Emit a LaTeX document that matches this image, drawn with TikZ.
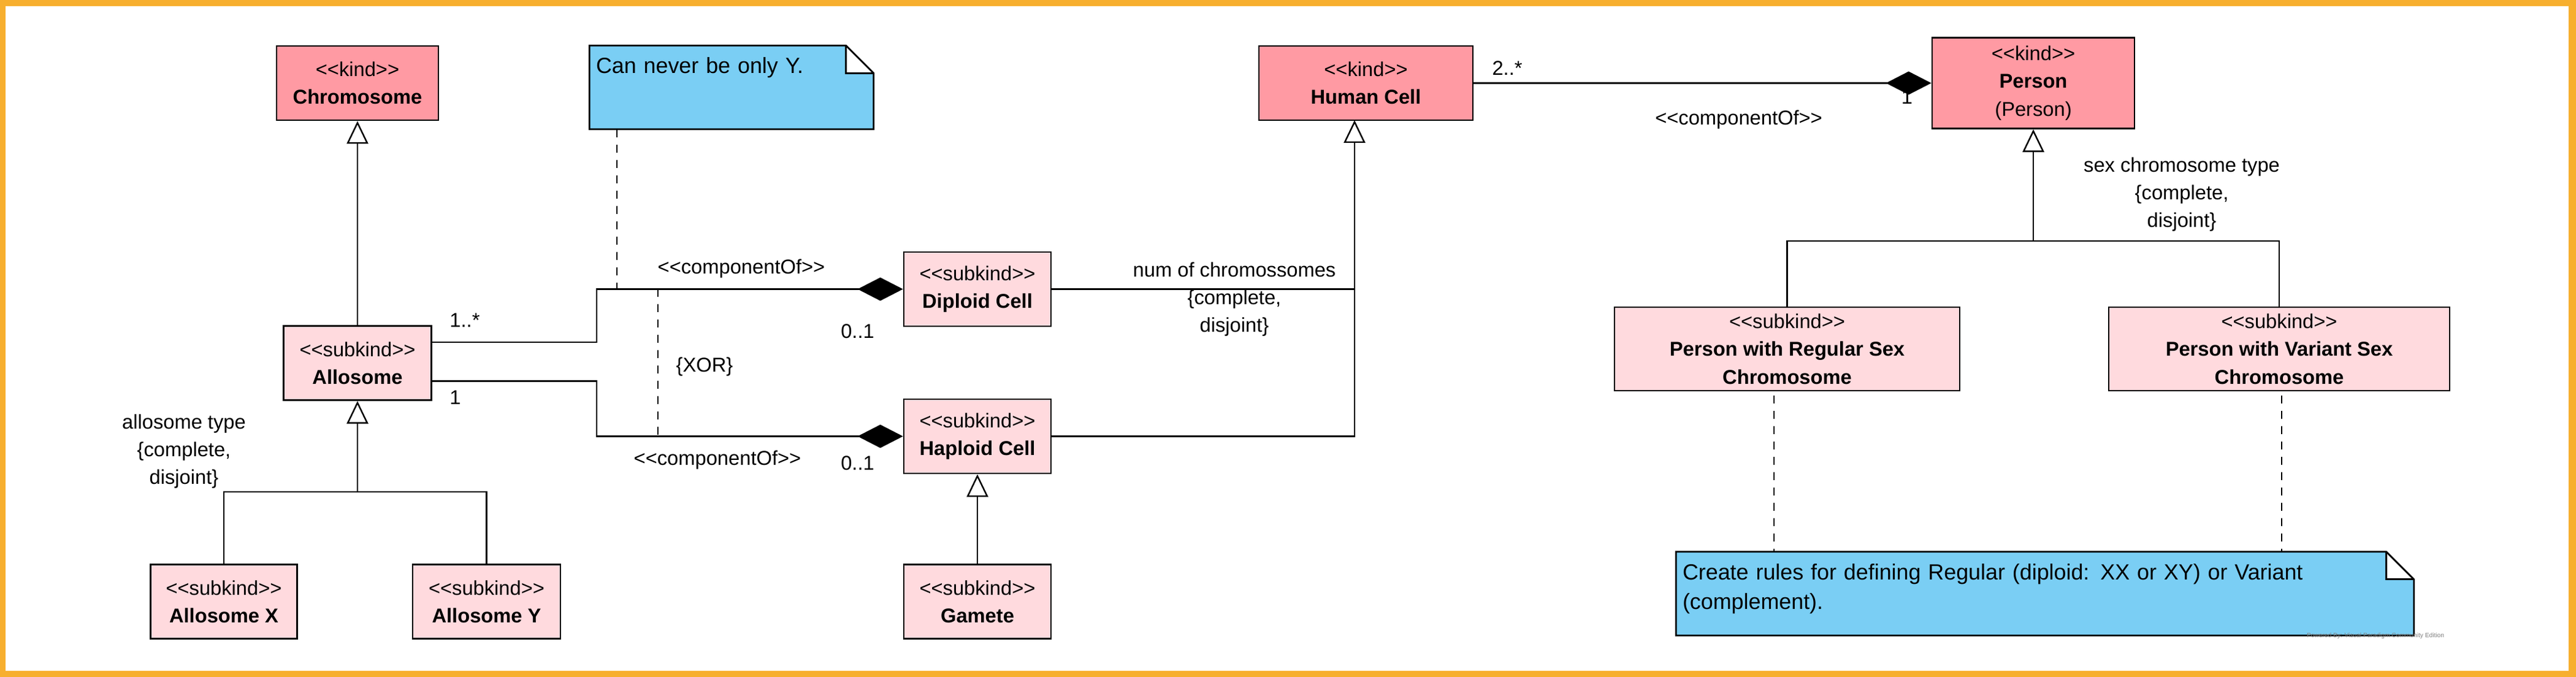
\documentclass[tikz,border=0pt]{standalone}
\usepackage{fontspec}
\setmainfont{Liberation Sans}
\usetikzlibrary{positioning, arrows.meta}
\definecolor{kindpink}{HTML}{FF9AA3}
\definecolor{subkindpink}{HTML}{FFDADE}
\definecolor{noteblue}{HTML}{7ACEF4}
\definecolor{frameorange}{HTML}{F7AF2F}
\newcommand\stereo[1]{<\kern0pt<#1>\kern0pt>}

\begin{document}
\begin{tikzpicture}[auto, on grid,
    kind/.style={rectangle, draw=black, thick, fill=kindpink, inner sep=0pt, minimum height=1.21cm, align=center, font=\fontsize{9.3}{12.9}\selectfont},
    subkind/.style={kind, fill=subkindpink},
    note/.style={rectangle, fill=noteblue, inner xsep=0.1cm, inner ysep=0.1cm, align=left, text height=0.35cm, text depth=0.8cm, font=\fontsize{10.2}{13.6}\selectfont},
    lbl/.style={align=center, inner sep=0pt, font=\fontsize{9.3}{12.9}\selectfont},
    line/.style={draw=black, line width=0.7pt},
    gen/.style={line, -{Triangle[open, length=3.7mm, width=3.5mm]}},
    comp/.style={line, -{Diamond[length=7.4mm, width=3.8mm]}},
    link/.style={draw=black, line width=0.55pt, dash pattern=on 1.3mm off 1.2mm}]

      % frame
      \fill[frameorange] (0,0) rectangle (42.01,-11.04);
      \fill[white] (0.09,-0.10) rectangle (41.89,-10.94);

      \node[kind, minimum width=2.64cm] (chr) at (5.83,-1.355) {\stereo{kind}\\\textbf{Chromosome}};
      \node[subkind, minimum width=2.41cm, below=4.565cm of chr] (allo) {\stereo{subkind}\\\textbf{Allosome}};
      \node[subkind, minimum width=2.39cm, below left=3.89cm and 2.18cm of allo] (allox) {\stereo{subkind}\\\textbf{Allosome X}};
      \node[subkind, minimum width=2.41cm, below right=3.89cm and 2.105cm of allo] (alloy) {\stereo{subkind}\\\textbf{Allosome Y}};
      \node[subkind, minimum width=2.40cm, below right=3.36cm and 10.11cm of chr] (diploid) {\stereo{subkind}\\\textbf{Diploid Cell}};
      \node[subkind, minimum width=2.40cm, below=2.4cm of diploid] (haploid) {\stereo{subkind}\\\textbf{Haploid Cell}};
      \node[subkind, minimum width=2.40cm, below=2.695cm of haploid] (gamete) {\stereo{subkind}\\\textbf{Gamete}};
      \node[kind, minimum width=3.49cm, right=16.445cm of chr] (human) {\stereo{kind}\\\textbf{Human Cell}};
      \node[kind, minimum width=3.30cm, minimum height=1.48cm, right=10.885cm of human] (person) {\stereo{kind}\\\textbf{Person}\\(Person)};
      \node[subkind, minimum width=5.63cm, minimum height=1.36cm, below left=4.335cm and 4.015cm of person] (regular) {\stereo{subkind}\\\textbf{Person with Regular Sex}\\\textbf{Chromosome}};
      \node[subkind, minimum width=5.56cm, minimum height=1.36cm, below right=4.335cm and 4.01cm of person] (variant) {\stereo{subkind}\\\textbf{Person with Variant Sex}\\\textbf{Chromosome}};

      \node[note, text width=4.42cm, below right=0.07cm and 6.1cm of chr] (note1) {Can never be only Y.};
      \node[note, text width=11.82cm, below right=3.99cm and 4.205cm of regular] (note2) {Create rules for defining Regular (diploid: XX or XY) or Variant\\(complement).};
      \foreach \n in {note1, note2} {
        \fill[white] ([xshift=-4.5mm]\n.north east) rectangle ([yshift=-4.5mm]\n.north east);
        \draw[thick] (\n.north west) -- ([xshift=-4.5mm]\n.north east) -- ([yshift=-4.5mm]\n.north east) -- (\n.south east) -- (\n.south west) -- cycle;
        \draw[thick] ([xshift=-4.5mm]\n.north east) |- ([yshift=-4.5mm]\n.north east);
      }

      \coordinate[below=2.1cm of allo] (gsa);
      \coordinate[left=6.21cm of diploid] (bu);
      \coordinate[left=6.21cm of haploid] (bl);
      \coordinate[left=5.21cm of diploid] (xa);
      \coordinate[left=5.21cm of haploid] (xb);
      \coordinate[left=5.88cm of diploid] (na);
      \coordinate[below left=0.605cm and 0.185cm of human] (hg);
      \coordinate[below=2.575cm of person] (gsp);
      \coordinate[below left=0.76cm and 0.215cm of regular] (ra);
      \coordinate[below right=0.76cm and 0.04cm of variant] (va);

      \node[lbl, above right=0.695cm and 1.75cm of allo] (m1) {1..*};
      \node[lbl, below right=0.56cm and 1.595cm of allo] (m2) {1};
      \node[lbl, above left=0.335cm and 3.85cm of diploid] (c1) {\stereo{componentOf}};
      \node[lbl, below left=0.69cm and 1.955cm of diploid] (m3) {0..1};
      \node[lbl, below left=0.39cm and 4.24cm of haploid] (c2) {\stereo{componentOf}};
      \node[lbl, below left=0.44cm and 1.955cm of haploid] (m4) {0..1};
      \node[lbl, below left=1.265cm and 4.45cm of diploid] (xor) {\{XOR\}};
      \node[lbl, below left=1.44cm and 2.83cm of allo] (gs1) {allosome type\\\{complete,\\disjoint\}};
      \node[lbl, below right=0.165cm and 4.19cm of diploid] (gs2) {num of chromossomes\\\{complete,\\disjoint\}};
      \node[lbl, above right=0.245cm and 2.305cm of human] (m5) {2..*};
      \node[lbl, below right=0.595cm and 6.08cm of human] (c3) {\stereo{componentOf}};
      \node[lbl, below left=0.23cm and 2.06cm of person] (m6) {1};
      \node[lbl, below right=1.815cm and 2.42cm of person] (gs3) {sex chromosome type\\\{complete,\\disjoint\}};
      \node[font=\fontsize{2.9}{3}\selectfont, text=gray, inner sep=0pt, below right=0.69cm and 5.39cm of note2] (wm) {Powered By: Visual Paradigm Community Edition};

      \draw[gen] (allo) -- (chr);
      \draw[line] (allox) |- (gsa) -| (alloy);
      \draw[gen] (gsa) -- (allo);
      \draw[comp] ([yshift=3.4mm]allo.east) -| (bu) -- (diploid);
      \draw[comp] ([yshift=-2.95mm]allo.east) -| (bl) -- (haploid);
      \draw[link] (xa) -- (xb);
      \draw[link] (na |- note1.south) -- (na);
      \draw[gen] (gamete) -- (haploid);
      \draw[line] (diploid) -- (diploid -| hg);
      \draw[gen] (haploid) -| (hg);
      \draw[comp] (human) -- (person);
      \draw[line] (regular) |- (gsp) -| (variant);
      \draw[gen] (gsp) -- (person);
      \draw[link] (ra) -- (ra |- note2.north);
      \draw[link] (va) -- (va |- note2.north);
    \end{tikzpicture}
\end{document}
